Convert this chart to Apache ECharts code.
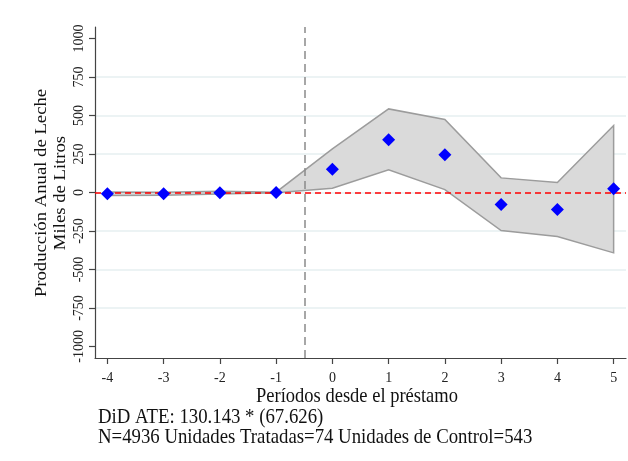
<!DOCTYPE html>
<html lang="es">
<head>
    <meta charset="UTF-8">
    <title>Producción Anual de Leche</title>
    <style>
        html, body { margin: 0; padding: 0; background: #fff; }
        #chart { width: 628px; height: 461px; }
    </style>
    <script src="https://cdn.jsdelivr.net/npm/echarts@6.0.0/dist/echarts.min.js"></script>
</head>
<body>
    <div id="chart"></div>
    <script type="text/javascript">
        // datos
        var periods  = [-4, -3, -2, -1, 0, 1, 2, 3, 4, 5];
        var estimate = [-8, -8, -2, 0, 151, 342, 245, -78, -110, 24];
        var upper    = [3, 2, 8, 2, 283, 543, 474, 95, 65, 435];
        var lower    = [-20, -18, -10, -2, 28, 147, 19, -247, -286, -392];
        var yTicks   = [-1000, -750, -500, -250, 0, 250, 500, 750, 1000];
        var gridVals = [-750, -500, -250, 0, 250, 500, 750];

        var serif = 'Liberation Serif';
        var chart = echarts.init(document.getElementById('chart'));

        var option = {
            animation: false,
            grid: { left: 95, right: 2, top: 27, bottom: 103 },
            xAxis: {
                type: 'value',
                min: -4.22,
                max: 5.22,
                axisLine: { onZero: false, lineStyle: { color: '#444', width: 1.2 } },
                axisTick: { customValues: periods, length: 6, lineStyle: { color: '#444', width: 1.2 } },
                axisLabel: { customValues: periods, margin: 13, fontFamily: serif, fontSize: 14, color: '#222' },
                splitLine: { show: false }
            },
            yAxis: {
                type: 'value',
                min: -1075,
                max: 1075,
                axisLine: { show: true, onZero: false, lineStyle: { color: '#444', width: 1.2 } },
                axisTick: { show: true, customValues: yTicks, length: 6, lineStyle: { color: '#444', width: 1.2 } },
                axisLabel: {
                    customValues: yTicks, rotate: 90, margin: 9,
                    fontFamily: serif, fontSize: 14, color: '#222',
                    formatter: function (v) { return String(v); }
                },
                splitLine: { show: false }
            },
            graphic: [
                {
                    type: 'text', x: 51, y: 193, rotation: Math.PI / 2, scaleX: 1.1,
                    style: {
                        text: 'Producción Anual de Leche\nMiles de Litros',
                        font: '17px "Liberation Serif"', fill: '#111',
                        align: 'center', verticalAlign: 'middle', lineHeight: 19
                    }
                },
                {
                    type: 'text', x: 357, y: 397, scaleY: 1.12,
                    style: {
                        text: 'Períodos desde el préstamo',
                        font: '18.5px "Liberation Serif"', fill: '#111',
                        align: 'center', verticalAlign: 'middle'
                    }
                },
                {
                    type: 'text', x: 98, y: 417, scaleY: 1.12,
                    style: {
                        text: 'DiD ATE: 130.143 * (67.626)',
                        font: '18.8px "Liberation Serif"', fill: '#111',
                        align: 'left', verticalAlign: 'middle'
                    }
                },
                {
                    type: 'text', x: 98, y: 437, scaleY: 1.12,
                    style: {
                        text: 'N=4936 Unidades Tratadas=74 Unidades de Control=543',
                        font: '18.8px "Liberation Serif"', fill: '#111',
                        align: 'left', verticalAlign: 'middle'
                    }
                }
            ],
            series: [
                {
                    // lineas de cuadricula
                    type: 'line',
                    data: [],
                    silent: true,
                    z: 0,
                    markLine: {
                        z: 0,
                        symbol: 'none',
                        silent: true,
                        label: { show: false },
                        lineStyle: { color: '#e6eff0', width: 1.5, type: 'solid' },
                        data: gridVals.map(function (v) { return { yAxis: v }; })
                    }
                },
                {
                    // intervalo de confianza
                    type: 'custom',
                    z: 2,
                    data: periods.map(function (p, i) { return [p, lower[i], upper[i]]; }),
                    encode: { x: 0, y: [1, 2] },
                    renderItem: function (params, api) {
                        if (params.dataIndex !== 0) return;
                        var pts = [];
                        for (var i = 0; i < periods.length; i++) pts.push(api.coord([periods[i], upper[i]]));
                        for (var j = periods.length - 1; j >= 0; j--) pts.push(api.coord([periods[j], lower[j]]));
                        return {
                            type: 'polygon',
                            shape: { points: pts },
                            style: { fill: '#dadada', stroke: '#9c9c9c', lineWidth: 1.5 }
                        };
                    }
                },
                {
                    type: 'line',
                    data: [],
                    z: 3,
                    markLine: {
                        z: 3,
                        symbol: 'none',
                        silent: true,
                        label: { show: false },
                        data: [
                            { yAxis: 0, lineStyle: { color: '#ff0000', width: 1.5, type: [6, 4] } },
                            { xAxis: -0.5, lineStyle: { color: '#8a8a8a', width: 1.5, type: [8, 5] } }
                        ]
                    }
                },
                {
                    type: 'scatter',
                    z: 5,
                    symbol: 'diamond',
                    symbolSize: 13,
                    itemStyle: { color: '#0000ff', opacity: 1 },
                    data: periods.map(function (p, i) { return [p, estimate[i]]; })
                }
            ]
        };
        chart.setOption(option);
    </script>
</body>
</html>
